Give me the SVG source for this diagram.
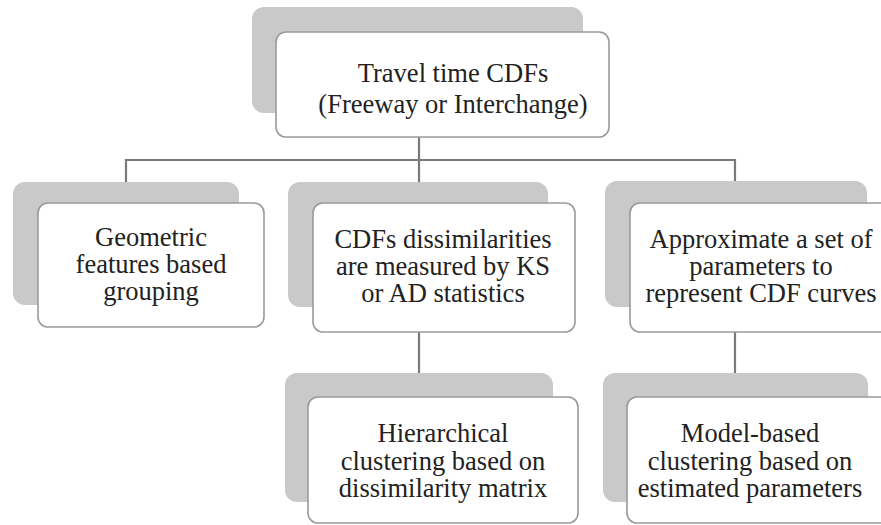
<svg xmlns="http://www.w3.org/2000/svg" width="881" height="525" viewBox="0 0 881 525">
<style>
.sh{fill:#c9c9c9;stroke:none}
.bx{fill:#ffffff;stroke:#9a9a9a;stroke-width:1.6}
.t{font-family:'Liberation Serif','Times New Roman','DejaVu Serif',serif;font-size:26.5px;fill:#222222;text-anchor:middle}
.c{stroke:#7a7a7a;stroke-width:2.2;fill:none}
</style>
<rect width="881" height="525" fill="#ffffff"/>
<g id="connectors">
<line class="c" x1="419" y1="137" x2="419" y2="182"/>
<polyline class="c" points="126,182 126,160 735,160 735,181"/>
<line class="c" x1="419" y1="332" x2="419" y2="373"/>
<line class="c" x1="735" y1="332" x2="735" y2="373"/>
</g>
<g id="n-top">
<rect class="sh" x="252" y="7" width="331" height="106" rx="12"/>
<rect class="bx" x="276" y="32" width="333" height="105" rx="10"/>
<text class="t" x="453" y="82" font-family="Liberation Serif, DejaVu Serif, serif">Travel time CDFs</text>
<text class="t" x="453" y="113" font-family="Liberation Serif, DejaVu Serif, serif">(Freeway or Interchange)</text>
</g>
<g id="n-geo">
<rect class="sh" x="13" y="182" width="226" height="123" rx="12"/>
<rect class="bx" x="38" y="203" width="226" height="124" rx="10"/>
<text class="t" x="151" y="246">Geometric</text>
<text class="t" x="151" y="273">features based</text>
<text class="t" x="151" y="300">grouping</text>
</g>
<g id="n-cdf">
<rect class="sh" x="288" y="182" width="260" height="125" rx="12"/>
<rect class="bx" x="313" y="203" width="262" height="129" rx="10"/>
<text class="t" x="443" y="248">CDFs dissimilarities</text>
<text class="t" x="443" y="275">are measured by KS</text>
<text class="t" x="443" y="302">or AD statistics</text>
</g>
<g id="n-approx">
<rect class="sh" x="605" y="181" width="262" height="126" rx="12"/>
<rect class="bx" x="630" y="203" width="262" height="129" rx="10"/>
<text class="t" x="761" y="248">Approximate a set of</text>
<text class="t" x="761" y="275">parameters to</text>
<text class="t" x="761" y="302">represent CDF curves</text>
</g>
<g id="n-hier">
<rect class="sh" x="285" y="373" width="268" height="129" rx="12"/>
<rect class="bx" x="308" y="397" width="270" height="126" rx="10"/>
<text class="t" x="443" y="442">Hierarchical</text>
<text class="t" x="443" y="470">clustering based on</text>
<text class="t" x="443" y="497">dissimilarity matrix</text>
</g>
<g id="n-model">
<rect class="sh" x="603" y="373" width="265" height="129" rx="12"/>
<rect class="bx" x="627" y="397" width="266" height="126" rx="10"/>
<text class="t" x="750" y="442">Model-based</text>
<text class="t" x="750" y="470">clustering based on</text>
<text class="t" x="750" y="497">estimated parameters</text>
</g>
</svg>
